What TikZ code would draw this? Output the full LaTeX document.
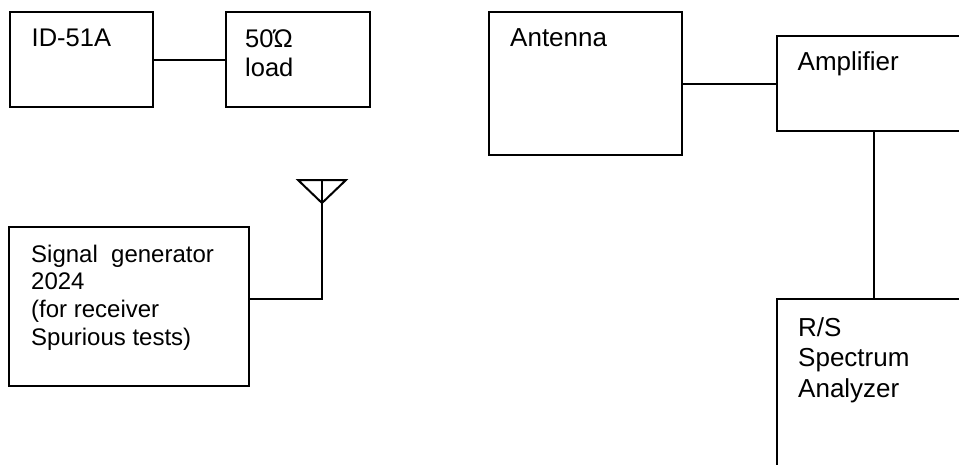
\documentclass[tikz,border=0pt]{standalone}
\usepackage{fontspec}
\setmainfont{Liberation Sans}
\begin{document}
\begin{tikzpicture}[x=1pt,y=-1pt,
  box/.style={draw=black,line width=2pt,rectangle,inner sep=0pt},
  wire/.style={draw=black,line width=2pt},
  lbl/.style={anchor=base west,inner sep=0pt,align=left,font=\fontsize{25.5}{29.5}\selectfont}]
\clip (0,0) rectangle (959,464);
% boxes
\node[box,minimum width=143pt,minimum height=95pt] (id) at (81.5,59.5) {};
\node[box,minimum width=144pt,minimum height=95pt] (load) at (298,59.5) {};
\node[box,minimum width=240pt,minimum height=159pt] (gen) at (129,306.5) {};
\node[box,minimum width=193pt,minimum height=143pt] (ant) at (585.5,83.5) {};
\node[box,minimum width=223pt,minimum height=95pt] (amp) at (888.5,83.5) {};
\node[box,minimum width=223pt,minimum height=221pt] (rs) at (888.5,409.5) {};
% labels (base anchor = baseline of last line)
\node[lbl] (tid) at (31.5,46.7) {ID-51A};
\node[lbl] (tload) at (245,76.5) {50Ώ\\load};
\node[lbl,font=\fontsize{24}{27.6}\selectfont] (tgen) at (31,345) {Signal\ \ generator\\2024\\(for receiver\\Spurious tests)};
\node[lbl,font=\fontsize{26}{30}\selectfont] (tant) at (510,46.7) {Antenna};
\node[lbl,font=\fontsize{26}{30}\selectfont] (tamp) at (797.5,70.7) {Amplifier};
\node[lbl,font=\fontsize{26}{30.3}\selectfont] (trs) at (798,397) {R/S\\Spectrum\\Analyzer};
% connectors
\draw[wire] (id.east) -- (load.west);
\draw[wire] (ant.east) -- (amp.west);
\coordinate (vx) at (874,0);
\draw[wire] (amp.south -| vx) -- (rs.north -| vx);
% antenna symbol
\coordinate (gj) at (322,299);
\coordinate (atop) at (322,180);
\coordinate (al) at (298,180);
\coordinate (ar) at (346,180);
\coordinate (aapex) at (322,203);
\draw[wire] (gen.east |- gj) -- (gj) -- (atop);
\draw[wire,line join=miter] (al) -- (ar) -- (aapex) -- cycle;
\end{tikzpicture}
\end{document}
